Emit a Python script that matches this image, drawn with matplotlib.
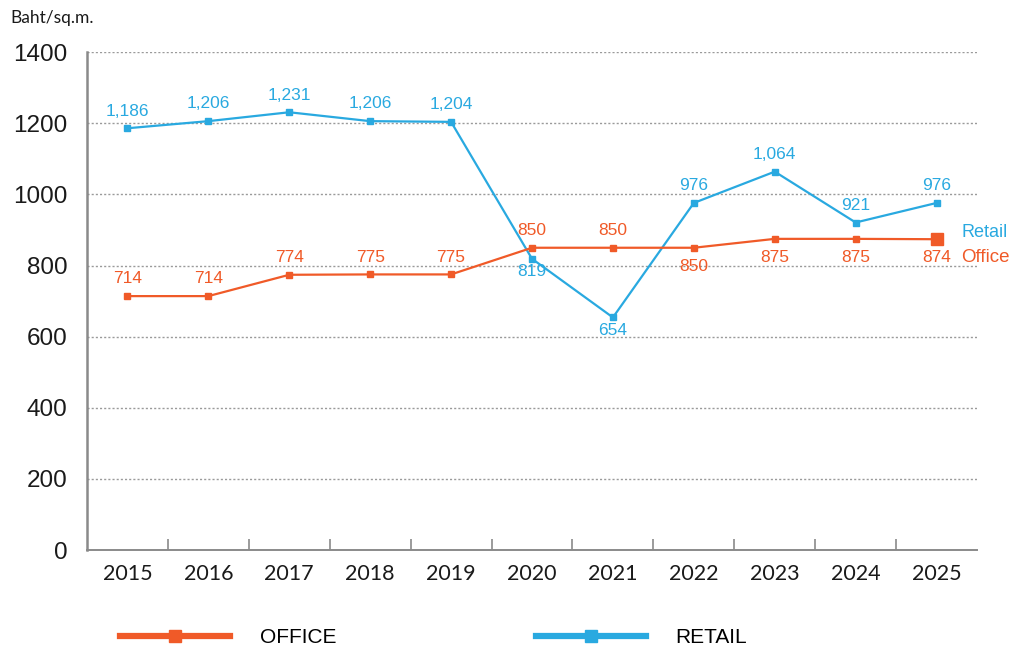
import matplotlib
matplotlib.use("Agg")
import matplotlib.pyplot as plt
import numpy as np
from matplotlib.lines import Line2D

years = ["2015", "2016", "2017", "2018", "2019", "2020", "2021", "2022", "2023", "2024", "2025"]
office = [714, 714, 774, 775, 775, 850, 850, 850, 875, 875, 874]
retail = [1186, 1206, 1231, 1206, 1204, 819, 654, 976, 1064, 921, 976]
office_labels = ["714", "714", "774", "775", "775", "850", "850", "850", "875", "875", "874"]
retail_labels = ["1,186", "1,206", "1,231", "1,206", "1,204", "819", "654", "976", "1,064", "921", "976"]
office_below = [False, False, False, False, False, False, False, True, True, True, True]
retail_below = [False, False, False, False, False, True, True, False, False, False, False]
y_ticks = [0, 200, 400, 600, 800, 1000, 1200, 1400]

ORANGE = "#F05A28"
BLUE = "#29A9E0"
GRID = "#9a9a9a"

fig = plt.figure(figsize=(10.17, 6.52), dpi=100)
ax = fig.add_axes([0.0855, 0.1564, 0.8752, 0.7636])

x = np.arange(len(years))
ax.plot(x, retail, color=BLUE, lw=1.6, marker="s", ms=5, zorder=3)
ax.plot(x[:-1], office[:-1], color=ORANGE, lw=1.6, marker="s", ms=5, zorder=4)
ax.plot(x[-2:], office[-2:], color=ORANGE, lw=1.6, zorder=4)
ax.plot(x[-1:], office[-1:], color=ORANGE, marker="s", ms=8, ls="none", zorder=4)

lab_font = dict(family="Liberation Sans", fontsize=12.5)
for i in range(len(x)):
    if office_below[i]:
        ax.annotate(office_labels[i], (x[i], office[i]), xytext=(0, -8), textcoords="offset points",
                    ha="center", va="top", color=ORANGE, **lab_font)
    else:
        ax.annotate(office_labels[i], (x[i], office[i]), xytext=(0, 7), textcoords="offset points",
                    ha="center", va="bottom", color=ORANGE, **lab_font)
    if retail_below[i]:
        ax.annotate(retail_labels[i], (x[i], retail[i]), xytext=(0, -4), textcoords="offset points",
                    ha="center", va="top", color=BLUE, **lab_font)
    else:
        ax.annotate(retail_labels[i], (x[i], retail[i]), xytext=(0, 7), textcoords="offset points",
                    ha="center", va="bottom", color=BLUE, **lab_font)

# series names at right
ax.annotate("Retail", (x[-1], retail[-1]), xytext=(18, -21), textcoords="offset points",
            ha="left", va="center", color=BLUE, fontsize=13, family="Liberation Sans")
ax.annotate("Office", (x[-1], office[-1]), xytext=(18, -13), textcoords="offset points",
            ha="left", va="center", color=ORANGE, fontsize=13.5, family="Liberation Sans")

ax.set_xlim(-0.5, len(years) - 0.5)
ax.set_ylim(0, 1400)
ax.set_yticks(y_ticks)
ax.set_yticklabels([str(v) for v in y_ticks], family="Liberation Sans", fontsize=17.5)
ax.set_xticks(x)
ax.set_xticklabels(years, family="Lato", fontsize=15.5)
ax.set_xticks(np.arange(0.5, len(years) - 1, 1), minor=True)
ax.tick_params(axis="y", length=0, pad=14, colors="#1a1a1a")
ax.tick_params(axis="x", which="major", length=0, pad=10, colors="#1a1a1a")
ax.tick_params(axis="x", which="minor", length=8, direction="in", color="#8a8a8a", width=1.2)

for yv in y_ticks[1:]:
    ax.axhline(yv, color=GRID, lw=1.0, ls=(0, (1.5, 1.5)), zorder=1)

for s in ["top", "right"]:
    ax.spines[s].set_visible(False)
ax.spines["left"].set_color("#8a8a8a")
ax.spines["left"].set_linewidth(1.8)
ax.spines["bottom"].set_color("#8a8a8a")
ax.spines["bottom"].set_linewidth(1.4)

fig.text(0.01, 0.972, "Baht/sq.m.", family="Lato", fontsize=12.5, color="#1a1a1a", va="center", ha="left")

# legend (two separate entries positioned like the reference)
leg_prop = dict(family="Liberation Sans", size=15)
h_off = Line2D([0], [0], color=ORANGE, lw=4.5, marker="s", ms=9)
h_ret = Line2D([0], [0], color=BLUE, lw=4.5, marker="s", ms=9)
leg1 = fig.legend([h_off], ["OFFICE"], loc="center left", bbox_to_anchor=(0.118, 0.022),
                  frameon=False, handlelength=5.3, handletextpad=1.4, borderpad=0, borderaxespad=0,
                  prop=leg_prop)
leg2 = fig.legend([h_ret], ["RETAIL"], loc="center left", bbox_to_anchor=(0.527, 0.022),
                  frameon=False, handlelength=5.3, handletextpad=1.4, borderpad=0, borderaxespad=0,
                  prop=leg_prop)

fig.savefig("out.png", dpi=100)
